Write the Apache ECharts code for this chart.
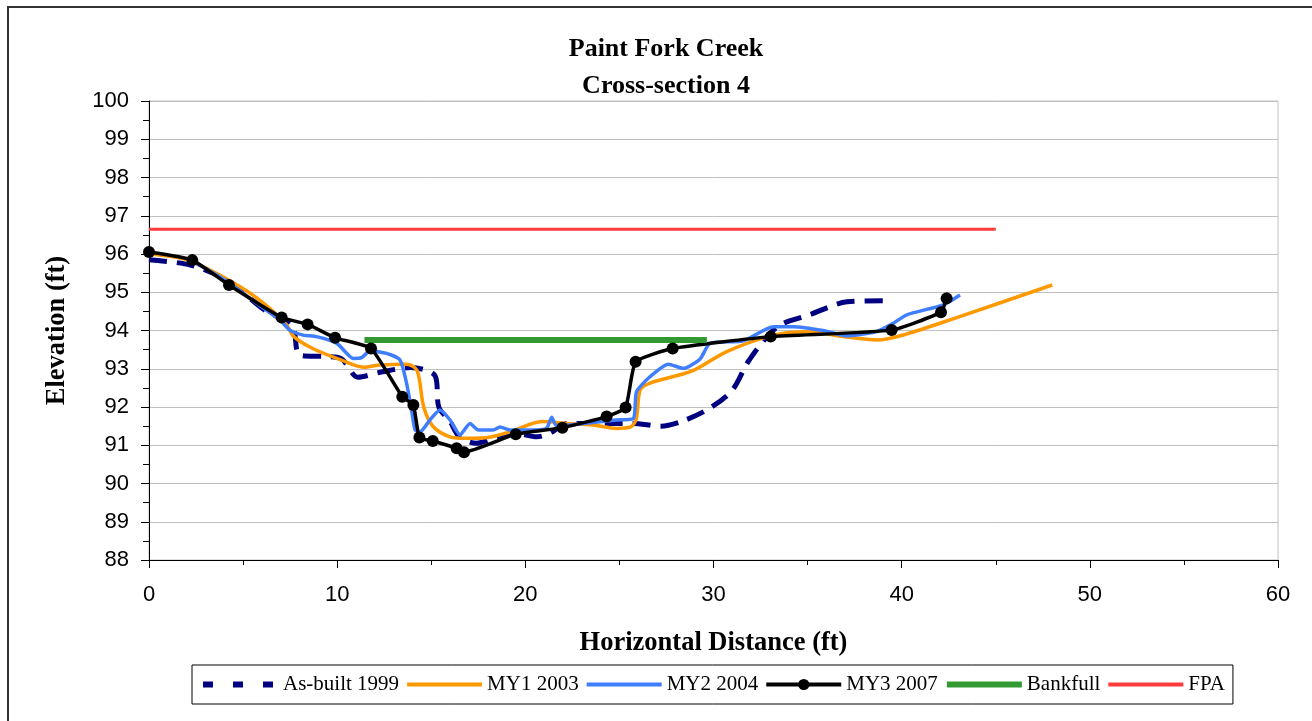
<!DOCTYPE html>
<html>
<head>
<meta charset="utf-8">
<script src="https://cdn.jsdelivr.net/npm/echarts@6/dist/echarts.min.js"></script>
<style>
  html, body { margin: 0; padding: 0; background: #fff; }
  #container { width: 1312px; height: 721px; }
</style>
</head>
<body>
<div id="container"></div>
<script>
var dom = document.getElementById("container");
var myChart = echarts.init(dom);

// As-built 1999
var asBuiltX = [0, 2.2, 4.1, 6.25, 7.6, 8.0, 9.3, 10.2, 11.1, 12.4, 13.9, 15.2, 15.4, 16.0, 16.5, 17.4, 18.5, 19.5, 20.6, 21.3, 22.2, 24.5, 25.7, 27.2, 28.4, 29.8, 31.0, 31.9, 33.4, 35.1, 37.1, 39.0];
var asBuiltY = [95.85, 95.71, 95.32, 94.5, 94.15, 93.36, 93.32, 93.27, 92.78, 92.92, 93.03, 92.82, 92.0, 91.62, 91.22, 91.05, 91.22, 91.31, 91.22, 91.31, 91.57, 91.57, 91.57, 91.5, 91.64, 91.97, 92.44, 93.23, 94.1, 94.41, 94.75, 94.78];

// MY1 2003
var my1X = [0, 2.0, 4.3, 6.0, 7.3, 7.7, 8.7, 10.2, 11.4, 12.3, 13.7, 14.25, 14.6, 15.1, 16.0, 16.9, 18.1, 19.2, 20.9, 22.2, 23.6, 24.85, 25.6, 25.9, 26.1, 26.6, 28.9, 30.7, 33.2, 35.0, 36.9, 38.7, 40.2, 43.0, 48.0];
var my1Y = [96.0, 95.85, 95.3, 94.75, 94.15, 93.84, 93.53, 93.23, 93.04, 93.1, 93.12, 92.95, 92.0, 91.49, 91.22, 91.18, 91.21, 91.35, 91.62, 91.57, 91.53, 91.44, 91.48, 91.7, 92.44, 92.62, 92.95, 93.45, 93.88, 93.97, 93.84, 93.75, 93.9, 94.35, 95.19];

// MY2 2004
var my2X = [2.5, 3.15, 4.3, 5.37, 6.96, 7.49, 8.2, 8.9, 9.97, 10.86, 11.3, 11.74, 12.63, 13.34, 13.69, 13.96, 14.14, 14.4, 14.93, 15.46, 16.0, 16.53, 17.06, 17.5, 18.3, 18.65, 19.18, 20.6, 21.13, 21.4, 21.67, 23.08, 24.85, 25.74, 25.91, 26.62, 27.6, 28.4, 29.28, 29.81, 31.58, 33.18, 34.24, 35.83, 37.08, 38.67, 39.56, 40.27, 42.21, 43.1];
var my2Y = [95.75, 95.58, 95.23, 94.84, 94.27, 94.01, 93.88, 93.84, 93.67, 93.27, 93.29, 93.47, 93.4, 93.23, 92.62, 91.9, 91.4, 91.35, 91.66, 91.92, 91.66, 91.27, 91.57, 91.4, 91.4, 91.48, 91.4, 91.4, 91.44, 91.73, 91.5, 91.57, 91.66, 91.7, 92.4, 92.79, 93.12, 93.01, 93.25, 93.66, 93.73, 94.1, 94.1, 94.0, 93.86, 93.97, 94.19, 94.41, 94.67, 94.93];

// MY3 2007
var my3X = [0, 2.3, 4.25, 7.05, 8.43, 9.89, 11.8, 13.46, 14.05, 14.37, 15.08, 16.35, 16.74, 19.49, 21.97, 24.32, 25.33, 25.86, 27.83, 33.04, 39.47, 42.09, 42.39];
var my3Y = [96.05, 95.84, 95.19, 94.34, 94.16, 93.81, 93.53, 92.27, 92.05, 91.2, 91.11, 90.92, 90.82, 91.29, 91.46, 91.75, 91.99, 93.18, 93.53, 93.84, 94.01, 94.48, 94.84];

// Bankfull and flood-prone area
var bankfullX = [11.45, 29.65];
var bankfullY = [93.75, 93.75];
var fpaX = [0, 45];
var fpaY = [96.65, 96.65];

var seriesNames = ['As-built 1999', 'MY1 2003', 'MY2 2004', 'MY3 2007', 'Bankfull', 'FPA'];

function pairs(xs, ys) {
    return xs.map(function (x, i) { return [x, ys[i]]; });
}

var serif = '"Liberation Serif", "Times New Roman", serif';
var sans = '"Liberation Sans", Arial, sans-serif';

// only MY3 shows a marker in the legend
var legendData = seriesNames.map(function (n) {
    var item = { name: n, lineStyle: { width: 4 } };
    if (n !== 'MY3 2007') item.itemStyle = { opacity: 0 };
    if (n === 'As-built 1999') item.lineStyle = { width: 6, type: [10, 20] };
    if (n === 'Bankfull') item.lineStyle = { width: 6 };
    return item;
});

option = {
    animation: false,
    backgroundColor: '#ffffff',
    title: {
        text: 'Paint Fork Creek\nCross-section 4',
        left: 661,
        top: 26,
        textAlign: 'center',
        textStyle: {
            fontFamily: serif,
            fontWeight: 'bold',
            fontSize: 26,
            lineHeight: 37,
            color: '#000'
        }
    },
    graphic: [{
        type: 'rect',
        shape: { x: 8, y: 7, width: 1400, height: 800 },
        style: { fill: 'none', stroke: '#333', lineWidth: 2 },
        silent: true
    }],
    legend: {
        data: legendData,
        left: 192,
        top: 665,
        itemWidth: 75,
        itemHeight: 14,
        itemGap: 6,
        padding: [9, 8],
        borderColor: '#000',
        borderWidth: 1,
        textStyle: { fontFamily: serif, fontSize: 21, color: '#000' }
    },
    grid: {
        left: 149,
        right: 34,
        top: 101,
        bottom: 161,
        show: true,
        borderColor: '#c0c0c0',
        borderWidth: 1
    },
    xAxis: {
        type: 'value',
        min: 0,
        max: 60,
        interval: 10,
        name: 'Horizontal Distance (ft)',
        nameLocation: 'middle',
        nameGap: 70,
        nameTextStyle: { fontFamily: serif, fontWeight: 'bold', fontSize: 26.5, color: '#000' },
        axisLine: { lineStyle: { color: '#000', width: 1 } },
        axisTick: { length: 8, lineStyle: { color: '#000' } },
        minorTick: { show: true, splitNumber: 2, length: 5, lineStyle: { color: '#000' } },
        axisLabel: { fontFamily: sans, fontSize: 22, color: '#000', margin: 24 },
        splitLine: { show: false }
    },
    yAxis: {
        type: 'value',
        min: 88,
        max: 100,
        interval: 1,
        name: 'Elevation (ft)',
        nameLocation: 'middle',
        nameGap: 78,
        nameRotate: 90,
        nameTextStyle: { fontFamily: serif, fontWeight: 'bold', fontSize: 26.5, color: '#000' },
        axisLine: { show: true, lineStyle: { color: '#000', width: 1 } },
        axisTick: { show: true, length: 8, lineStyle: { color: '#000' } },
        minorTick: { show: true, splitNumber: 2, length: 6, lineStyle: { color: '#000' } },
        axisLabel: { fontFamily: sans, fontSize: 22, color: '#000', margin: 20 },
        splitLine: { show: true, lineStyle: { color: '#c0c0c0', width: 1 } }
    },
    series: [
        {
            name: 'As-built 1999',
            type: 'line',
            smooth: 0.3,
            symbol: 'none',
            data: pairs(asBuiltX, asBuiltY),
            itemStyle: { color: '#000080' },
            lineStyle: { color: '#000080', width: 5, type: [18, 10], cap: 'butt' }
        },
        {
            name: 'MY1 2003',
            type: 'line',
            smooth: 0.3,
            symbol: 'none',
            data: pairs(my1X, my1Y),
            itemStyle: { color: '#ff9900' },
            lineStyle: { color: '#ff9900', width: 3.5 }
        },
        {
            name: 'MY2 2004',
            type: 'line',
            smooth: 0.2,
            symbol: 'none',
            data: pairs(my2X, my2Y),
            itemStyle: { color: '#3f7fff' },
            lineStyle: { color: '#3f7fff', width: 3.5 }
        },
        {
            name: 'MY3 2007',
            type: 'line',
            smooth: 0.15,
            symbol: 'circle',
            symbolSize: 12,
            data: pairs(my3X, my3Y),
            itemStyle: { color: '#000' },
            lineStyle: { color: '#000', width: 3.5 }
        },
        {
            name: 'Bankfull',
            type: 'line',
            symbol: 'none',
            data: pairs(bankfullX, bankfullY),
            itemStyle: { color: '#339933' },
            lineStyle: { color: '#339933', width: 6 }
        },
        {
            name: 'FPA',
            type: 'line',
            symbol: 'none',
            data: pairs(fpaX, fpaY),
            itemStyle: { color: '#ff3b3b' },
            lineStyle: { color: '#ff3b3b', width: 3 }
        }
    ]
};

if (option && typeof option === "object") {
    myChart.setOption(option, true);
}
</script>
</body>
</html>
